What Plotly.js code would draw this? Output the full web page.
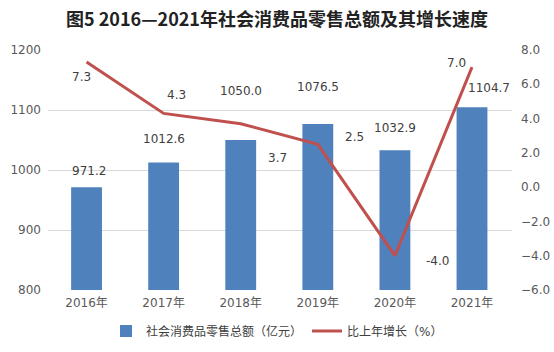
<!DOCTYPE html>
<html>
<head>
<meta charset="utf-8">
<script src="https://cdn.plot.ly/plotly-3.0.1.min.js"></script>
<style>html,body{margin:0;padding:0;background:#fff;}#chart{width:554px;height:352px;}</style>
</head>
<body>
<div id="chart"></div>
<script>
// ---- data ----
var years = ['2016年', '2017年', '2018年', '2019年', '2020年', '2021年'];
var sales = [971.2, 1012.6, 1050.0, 1076.5, 1032.9, 1104.7];
var growth = [7.3, 4.3, 3.7, 2.5, -4.0, 7.0];
var leftTicks = [800, 900, 1000, 1100, 1200];
var rightTicks = [-6, -4, -2, 0, 2, 4, 6, 8];

// label pixel offsets (style, not data)
var barLabelDx = [2, 0, 0, 0, 0, 17];
var barLabelDy = [7, 14, 40, 28, 13, 10];
var lineLabelDx = [-5, 13, 37, 37, 43, -16];
var lineLabelDy = [-15, 18, -34, 7, -5, 4];

var FONT = '"DejaVu Sans", "Noto Sans CJK SC", sans-serif';
var labelColor = '#404040';
var tickColor = '#595959';

var traces = [
  {
    type: 'bar', name: '社会消费品零售总额（亿元）',
    x: years, y: sales, width: 0.4,
    marker: {color: '#4F81BD'}, hoverinfo: 'none'
  },
  {
    type: 'scatter', mode: 'lines', name: '比上年增长（%）',
    x: years, y: growth, yaxis: 'y2',
    line: {color: '#C0504D', width: 3}, hoverinfo: 'none'
  }
];

var annotations = [];
for (var i = 0; i < years.length; i++) {
  annotations.push({
    x: years[i], y: sales[i], xref: 'x', yref: 'y',
    text: sales[i].toFixed(1), showarrow: false,
    xshift: barLabelDx[i], yshift: barLabelDy[i], yanchor: 'bottom',
    font: {family: FONT, size: 12, color: labelColor}
  });
  annotations.push({
    x: years[i], y: growth[i], xref: 'x', yref: 'y2',
    text: growth[i].toFixed(1), showarrow: false,
    xshift: lineLabelDx[i], yshift: lineLabelDy[i], yanchor: 'middle',
    font: {family: FONT, size: 12, color: labelColor}
  });
}

var layout = {
  width: 554, height: 352,
  margin: {l: 48, r: 42, t: 50, b: 62, autoexpand: false},
  paper_bgcolor: '#fff', plot_bgcolor: '#fff',
  font: {family: FONT, size: 12, color: tickColor},
  title: {
    text: '<b>图5 2016—2021年社会消费品零售总额及其增长速度</b>',
    x: 0.5, xanchor: 'center', y: 0.945, yanchor: 'middle',
    font: {family: '"Noto Sans CJK SC", sans-serif', size: 18, color: '#222'}
  },
  xaxis: {
    type: 'category', showgrid: false, zeroline: false, showline: false,
    ticks: '', ticklabelstandoff: 4, tickfont: {family: FONT, size: 12, color: tickColor}
  },
  yaxis: {
    range: [800, 1200], tickvals: leftTicks, showgrid: true, gridcolor: '#d9d9d9', gridwidth: 1,
    zeroline: false, showline: false, ticks: '', ticklabelstandoff: 6,
    tickfont: {family: FONT, size: 12, color: tickColor}
  },
  yaxis2: {
    range: [-6, 8], tickvals: rightTicks, tickformat: '.1f', overlaying: 'y', side: 'right',
    showgrid: false, zeroline: false, showline: false, ticks: '', ticklabelstandoff: 8,
    tickfont: {family: FONT, size: 12, color: tickColor}
  },
  showlegend: true,
  legend: {
    orientation: 'h', x: 0.5, xref: 'container', xanchor: 'center',
    y: 0.06, yref: 'container', yanchor: 'middle',
    font: {family: FONT, size: 12, color: labelColor}, traceorder: 'normal'
  },
  annotations: annotations,
  bargap: 0.6
};

Plotly.newPlot('chart', traces, layout, {displayModeBar: false, staticPlot: true});
</script>
</body>
</html>
